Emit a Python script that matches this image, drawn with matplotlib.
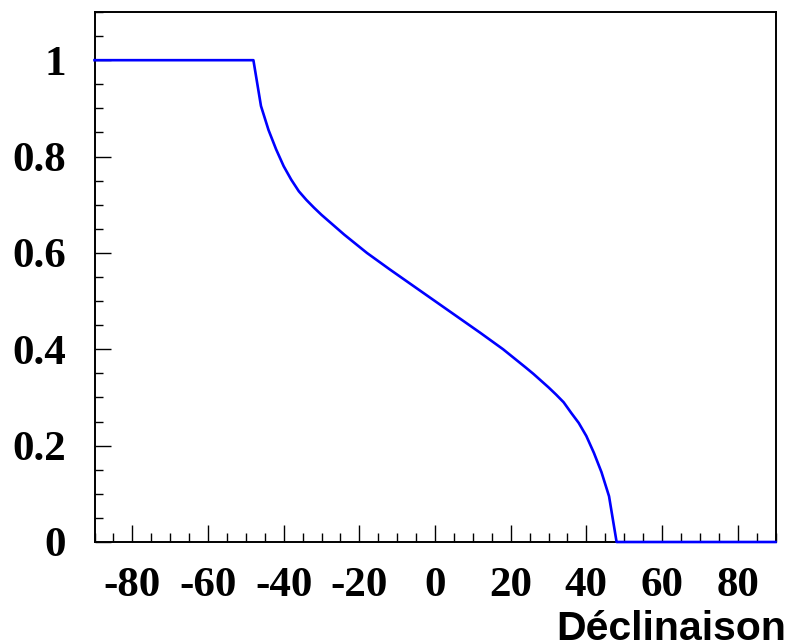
import matplotlib
matplotlib.use("Agg")
import matplotlib.pyplot as plt
from matplotlib.ticker import MultipleLocator, FixedLocator

# Data
declination = [-90, -48, -46, -44, -42, -40, -38, -36, -34, -32, -30, -24, -18,
               -12, -6, 0, 6, 12, 18, 24, 26, 28, 30, 32, 34, 36, 38, 40, 42,
               44, 46, 48, 90]
fraction = [1.0, 1.0, 0.905, 0.855, 0.815, 0.78, 0.752, 0.728, 0.710, 0.694,
            0.679, 0.638, 0.600, 0.566, 0.533, 0.50, 0.467, 0.434, 0.40, 0.362,
            0.349, 0.335, 0.321, 0.306, 0.29, 0.268, 0.247, 0.220, 0.185,
            0.145, 0.095, 0.0, 0.0]

x_major = [-80, -60, -40, -20, 0, 20, 40, 60, 80]
x_labels = ["-80", "-60", "-40", "-20", "0", "20", "40", "60", "80"]
y_major = [0, 0.2, 0.4, 0.6, 0.8, 1.0]
y_labels = ["0", "0.2", "0.4", "0.6", "0.8", "1"]
xlabel = "Déclinaison"

fig = plt.figure(figsize=(7.92, 6.43), dpi=100)
ax = fig.add_axes([94.5 / 792, 1 - 542 / 643, 681 / 792, 530 / 643])

ax.plot(declination, fraction, color=(0, 0, 1), lw=1.9, clip_on=False, zorder=3)

ax.set_xlim(-90, 90)
ax.set_ylim(0, 1.1)

ax.xaxis.set_major_locator(FixedLocator(x_major))
ax.set_xticklabels(x_labels)
ax.xaxis.set_minor_locator(MultipleLocator(5))
ax.yaxis.set_major_locator(FixedLocator(y_major))
ax.set_yticklabels(y_labels)
ax.yaxis.set_minor_locator(MultipleLocator(0.05))

for s in ax.spines.values():
    s.set_linewidth(1.4)
    s.set_color("black")

ax.tick_params(axis="both", which="both", direction="in", top=False, right=False,
               width=1.0, color="black")
ax.tick_params(axis="x", which="major", length=12.5, pad=18)
ax.tick_params(axis="x", which="minor", length=6.5)
ax.tick_params(axis="y", which="major", length=11.5, pad=20.5)
ax.tick_params(axis="y", which="minor", length=6)

for lab in ax.get_xticklabels() + ax.get_yticklabels():
    lab.set_fontfamily("Liberation Serif")
    lab.set_fontweight("bold")
    lab.set_fontsize(31)

fig.text(786 / 792, 3 / 643, xlabel, ha="right", va="baseline",
         fontfamily="Liberation Sans", fontweight="bold", fontsize=29.5)

fig.savefig("out.png", dpi=100)
